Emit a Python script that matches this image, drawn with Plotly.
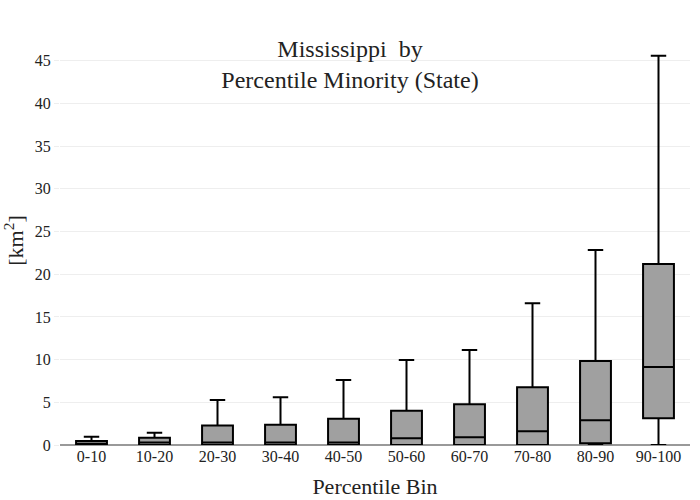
import plotly.graph_objects as go

categories = ["0-10", "10-20", "20-30", "30-40", "40-50", "50-60", "60-70", "70-80", "80-90", "90-100"]
q1 = [0.0, 0.0, 0.0, 0.0, 0.0, 0.0, 0.0, 0.0, 0.2, 3.12]
median = [0.15, 0.3, 0.3, 0.3, 0.3, 0.78, 0.9, 1.6, 2.89, 9.14]
q3 = [0.47, 0.86, 2.27, 2.38, 3.08, 4.02, 4.77, 6.76, 9.85, 21.2]
lowerfence = [0.0, 0.0, 0.0, 0.0, 0.0, 0.0, 0.0, 0.0, 0.0, 0.0]
upperfence = [0.97, 1.44, 5.27, 5.59, 7.6, 9.96, 11.13, 16.6, 22.85, 45.6]

font_family = "Liberation Serif"

fig = go.Figure()
fig.add_trace(go.Box(
    x=categories,
    q1=q1, median=median, q3=q3,
    lowerfence=lowerfence, upperfence=upperfence,
    fillcolor="#a0a0a0",
    line=dict(color="black", width=2),
    whiskerwidth=0.5,
    boxpoints=False,
    showlegend=False,
))

fig.update_layout(
    width=700, height=500,
    template="none",
    paper_bgcolor="white", plot_bgcolor="white",
    margin=dict(l=60, r=10, t=36, b=55),
    font=dict(family=font_family, size=16, color="#222"),
    title=dict(text="Mississippi  by<br>Percentile Minority (State)", x=0.5, xanchor="center",
               y=0.886, yanchor="middle", font=dict(size=24, family=font_family)),
    xaxis=dict(title=dict(text="Percentile Bin", font=dict(size=22), standoff=14),
               showgrid=False, zeroline=False, showline=False, ticks="",
               tickfont=dict(size=16)),
    yaxis=dict(title=dict(text="[km<sup>2</sup>]", font=dict(size=22), standoff=12),
               range=[0, 47.9], dtick=5, showgrid=True, gridcolor="#eeeeee",
               zeroline=True, zerolinecolor="#999999", zerolinewidth=2,
               ticks="outside", ticklen=5, tickcolor="#eeeeee",
               tickfont=dict(size=16)),
)

fig.write_html("out.html")
